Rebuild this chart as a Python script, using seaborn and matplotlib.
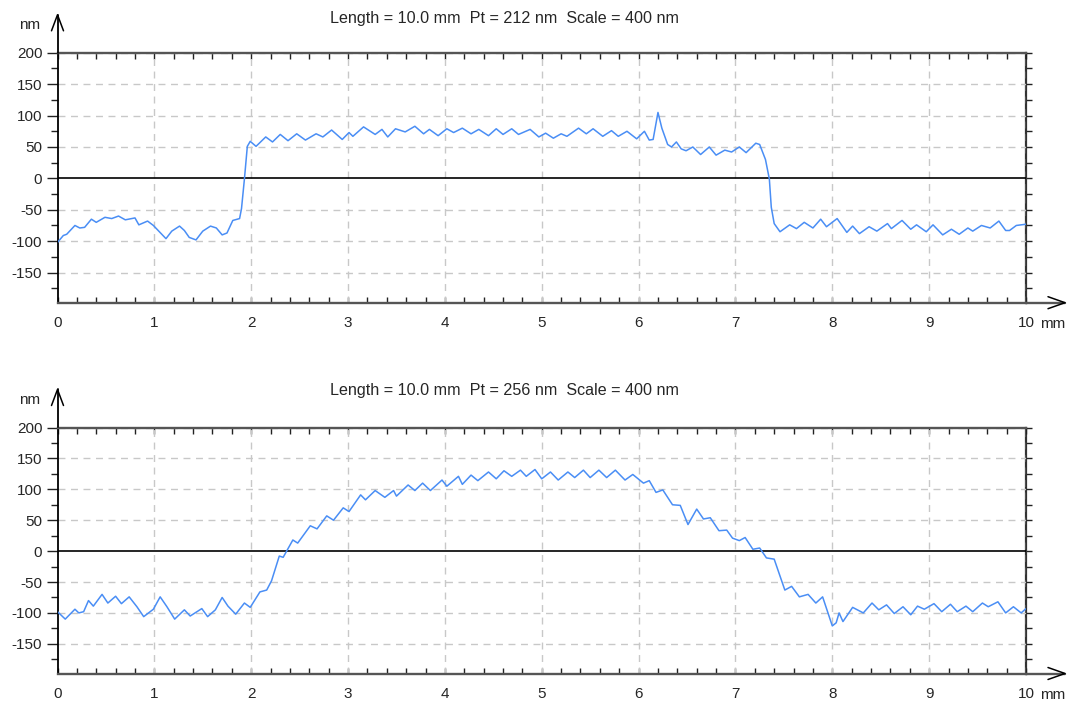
import numpy as np
import pandas as pd
import matplotlib
matplotlib.use("Agg")
import matplotlib.pyplot as plt
from matplotlib.lines import Line2D
from matplotlib.ticker import MultipleLocator
import seaborn as sns

# ---------------- data ----------------
top_x = [0.00, 0.06, 0.095, 0.18, 0.23, 0.28, 0.35, 0.40, 0.49, 0.56, 0.63, 0.70, 0.80, 0.84, 0.93, 0.99,
         1.12, 1.18, 1.26, 1.31, 1.36, 1.43, 1.50, 1.58, 1.64, 1.70, 1.75, 1.81, 1.88, 1.90, 1.93, 1.96,
         1.99, 2.05, 2.15, 2.22, 2.30, 2.38, 2.47, 2.56, 2.67, 2.74, 2.83, 2.94, 3.01, 3.05, 3.16, 3.28,
         3.35, 3.41, 3.49, 3.59, 3.69, 3.78, 3.84, 3.93, 4.02, 4.09, 4.18, 4.27, 4.35, 4.45, 4.53, 4.60,
         4.69, 4.76, 4.88, 4.97, 5.04, 5.12, 5.20, 5.26, 5.38, 5.46, 5.53, 5.63, 5.72, 5.79, 5.88, 5.98,
         6.06, 6.11, 6.15, 6.20, 6.24, 6.30, 6.34, 6.39, 6.44, 6.49, 6.56, 6.64, 6.73, 6.80, 6.89, 6.96,
         7.04, 7.11, 7.21, 7.25, 7.31, 7.35, 7.37, 7.40, 7.46, 7.56, 7.63, 7.71, 7.80, 7.88, 7.94, 8.05,
         8.15, 8.21, 8.28, 8.38, 8.46, 8.57, 8.61, 8.72, 8.81, 8.87, 8.97, 9.04, 9.14, 9.23, 9.31, 9.40,
         9.45, 9.54, 9.63, 9.72, 9.79, 9.83, 9.90, 10.00]
top_y = [-102, -91, -89, -75, -79, -78, -65, -70, -62, -64, -60, -66, -63, -74, -68, -75,
         -96, -84, -76, -83, -94, -98, -84, -76, -79, -90, -87, -67, -64, -48, -1, 51,
         59, 51, 66, 58, 70, 60, 71, 61, 71, 66, 77, 62, 73, 67, 82, 70,
         78, 66, 79, 74, 83, 71, 78, 68, 79, 73, 80, 71, 78, 68, 79, 70,
         79, 70, 78, 66, 72, 64, 71, 67, 80, 71, 79, 67, 76, 67, 75, 63,
         75, 61, 62, 105, 80, 54, 50, 58, 47, 44, 50, 38, 50, 37, 45, 42,
         50, 41, 56, 54, 30, -1, -46, -72, -85, -74, -80, -70, -79, -65, -77, -64,
         -86, -76, -88, -77, -84, -72, -80, -67, -81, -74, -85, -74, -90, -81, -89, -79,
         -84, -75, -79, -68, -83, -83, -75, -73]

bot_x = [0.00, 0.08, 0.18, 0.22, 0.27, 0.32, 0.37, 0.46, 0.52, 0.60, 0.66, 0.74, 0.82, 0.89, 0.99, 1.06,
         1.13, 1.21, 1.31, 1.37, 1.49, 1.55, 1.63, 1.70, 1.76, 1.84, 1.93, 1.99, 2.09, 2.16, 2.21, 2.29,
         2.33, 2.43, 2.48, 2.61, 2.68, 2.78, 2.85, 2.95, 3.01, 3.13, 3.18, 3.28, 3.38, 3.47, 3.50, 3.62,
         3.69, 3.77, 3.85, 3.97, 4.02, 4.14, 4.18, 4.27, 4.34, 4.45, 4.53, 4.61, 4.69, 4.78, 4.84, 4.93,
         5.00, 5.09, 5.17, 5.27, 5.34, 5.43, 5.50, 5.59, 5.67, 5.76, 5.86, 5.94, 6.05, 6.11, 6.18, 6.25,
         6.35, 6.43, 6.51, 6.60, 6.67, 6.74, 6.83, 6.91, 6.97, 7.04, 7.10, 7.18, 7.25, 7.32, 7.40, 7.51,
         7.58, 7.66, 7.75, 7.83, 7.90, 8.00, 8.04, 8.07, 8.11, 8.21, 8.32, 8.41, 8.48, 8.56, 8.64, 8.73,
         8.81, 8.88, 8.95, 9.05, 9.13, 9.22, 9.29, 9.38, 9.45, 9.55, 9.61, 9.71, 9.79, 9.87, 9.95, 10.00]
bot_y = [-98, -110, -94, -100, -98, -80, -89, -70, -84, -73, -85, -74, -90, -106, -94, -74,
         -90, -110, -95, -105, -93, -106, -95, -75, -89, -102, -84, -91, -66, -63, -48, -8,
         -10, 18, 13, 41, 36, 57, 50, 70, 64, 91, 83, 98, 87, 98, 89, 107,
         98, 110, 98, 115, 105, 121, 108, 123, 114, 128, 117, 130, 121, 131, 121, 132,
         117, 128, 115, 128, 119, 131, 119, 131, 119, 131, 115, 124, 110, 114, 95, 99,
         75, 74, 43, 68, 52, 54, 33, 34, 21, 17, 22, 3, 5, -11, -13, -63,
         -57, -74, -70, -84, -74, -121, -116, -100, -114, -91, -100, -84, -95, -87, -101, -90,
         -103, -89, -94, -85, -98, -86, -98, -89, -98, -84, -90, -82, -100, -90, -100, -93]

titles = ["Length = 10.0 mm  Pt = 212 nm  Scale = 400 nm",
          "Length = 10.0 mm  Pt = 256 nm  Scale = 400 nm"]
x_ticks = list(range(0, 11))
y_ticks = [-150, -100, -50, 0, 50, 100, 150, 200]

# ---------------- styling ----------------
sns.set_style("white")
plt.rcParams["font.family"] = ["Liberation Sans", "DejaVu Sans"]

W, H = 1073, 702
fig = plt.figure(figsize=(W / 100, H / 100), dpi=100)

def fx(px):
    return px / W

def fy(py):
    return 1 - py / H

LINE_COLOR = "#4a8ef5"
GRID_COLOR = "#c8c8c8"
TICK_FS = 11
TITLE_FS = 11.6

panels = [
    dict(x=top_x, y=top_y, title=titles[0], top=52.8, bottom=302.7, title_y=18),
    dict(x=bot_x, y=bot_y, title=titles[1], top=427.5, bottom=673.5, title_y=390),
]

left_px, right_px = 57.5, 1026.0

for p in panels:
    ax = fig.add_axes([fx(left_px), fy(p["bottom"]), fx(right_px - left_px),
                       (p["bottom"] - p["top"]) / H])
    df = pd.DataFrame({"x": p["x"], "y": p["y"]})
    sns.lineplot(data=df, x="x", y="y", ax=ax, color=LINE_COLOR, lw=1.1,
                 sort=False, estimator=None, zorder=5)
    ax.set_xlim(0, 10)
    ax.set_ylim(-198, 200)
    ax.set_xlabel("")
    ax.set_ylabel("")

    ax.set_xticks(x_ticks)
    ax.set_xticklabels([str(t) for t in x_ticks])
    ax.xaxis.set_minor_locator(MultipleLocator(0.2))
    ax.set_yticks(y_ticks)
    ax.set_yticklabels([str(t) for t in y_ticks])
    ax.yaxis.set_minor_locator(MultipleLocator(25))

    # grid
    dash = (0, (5, 4))
    for xv in x_ticks[1:]:
        ax.axvline(xv, color=GRID_COLOR, lw=1, ls=dash, zorder=1)
    for yv in y_ticks:
        if yv != 0:
            ax.axhline(yv, color=GRID_COLOR, lw=1, ls=dash, zorder=1)
    ax.axhline(0, color="black", lw=1.2, zorder=3)

    ax.tick_params(axis="x", which="both", direction="in", top=True, bottom=True,
                   labeltop=False, labelbottom=True, labelsize=TICK_FS, pad=9.5,
                   color="#222222", width=1)
    ax.tick_params(axis="x", which="major", length=4)
    ax.tick_params(axis="x", which="minor", length=4)
    ax.tick_params(axis="y", which="both", direction="out", left=True, right=False,
                   labelsize=TICK_FS, pad=3.0, color="#222222", width=1)
    ax.tick_params(axis="y", which="major", length=7.9)
    ax.tick_params(axis="y", which="minor", length=5.0)

    # right-side ticks
    sec = ax.secondary_yaxis("right")
    sec.set_yticks(list(range(-175, 201, 25)))
    sec.tick_params(axis="y", direction="out", length=4.3, width=1, color="#222222",
                    labelright=False)
    sec.spines["right"].set_linewidth(1.6)
    sec.spines["right"].set_color("#333333")

    for side in ["top", "bottom"]:
        ax.spines[side].set_color("#555555")
        ax.spines[side].set_linewidth(1.7)
    ax.spines["left"].set_color("black")
    ax.spines["left"].set_linewidth(1.3)
    ax.spines["right"].set_visible(False)

    # axis arrows
    apex_y = p["top"] - 38
    fig.add_artist(Line2D([fx(left_px), fx(left_px)], [fy(p["top"]), fy(apex_y)],
                          color="black", lw=1.3))
    fig.add_artist(Line2D([fx(left_px - 6), fx(left_px), fx(left_px + 6)],
                          [fy(apex_y + 16), fy(apex_y), fy(apex_y + 16)],
                          color="black", lw=1.1))
    tip_x = 1065
    fig.add_artist(Line2D([fx(right_px), fx(tip_x)], [fy(p["bottom"]), fy(p["bottom"])],
                          color="#555555", lw=1.7))
    fig.add_artist(Line2D([fx(tip_x - 17), fx(tip_x), fx(tip_x - 17)],
                          [fy(p["bottom"] - 6), fy(p["bottom"]), fy(p["bottom"] + 6)],
                          color="black", lw=1.1))

    fig.text(fx(29.5), fy(p["top"] - 28), "nm", ha="center", va="center", fontsize=TICK_FS)
    fig.text(fx(1040), fy(p["bottom"] + 25.5), "mm", ha="left", va="baseline", fontsize=TICK_FS)
    fig.text(fx(504.5), fy(p["title_y"]), p["title"], ha="center", va="center", fontsize=TITLE_FS)

fig.savefig("out.png", dpi=100)
